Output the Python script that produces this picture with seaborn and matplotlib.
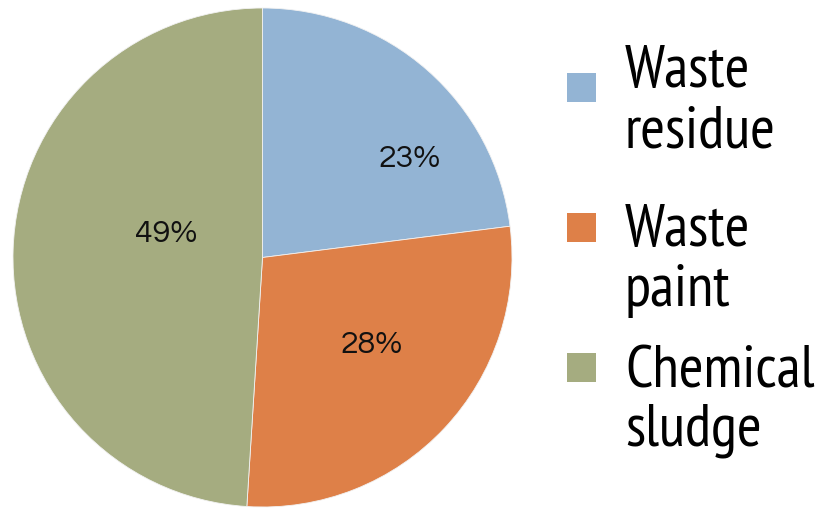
import matplotlib
matplotlib.use("Agg")
import matplotlib.pyplot as plt
from matplotlib import font_manager as fm
from matplotlib.patches import Rectangle
import seaborn as sns

# ---- data ----
categories = ["Waste residue", "Waste paint", "Chemical sludge"]
legend_lines = [["Waste", "residue"], ["Waste", "paint"], ["Chemical", "sludge"]]
values = [23, 28, 49]
colors = ["#93B4D4", "#DE8048", "#A5AC80"]

sns.set_style("white")
plt.rcParams["font.family"] = ["DejaVu Sans"]

_avail = {f.name for f in fm.fontManager.ttflist}


def pick(cands):
    for name, size in cands:
        if name in _avail:
            return name, size
    return "DejaVu Sans", cands[-1][1]


legend_family, legend_size = pick([("PT Sans Narrow", 43), ("Archivo Narrow", 40),
                                   ("Liberation Sans", 32)])
pct_family, pct_size = pick([("Questrial", 23), ("Didact Gothic", 21), ("DejaVu Sans", 19)])

W, H = 834, 508
fig = plt.figure(figsize=(W / 100, H / 100), dpi=100)
fig.patch.set_facecolor("white")


def fx(px):
    return px / W


def fy(py):
    return (H - py) / H


# pie axes: pixel box 13..512 x 8..507
ax = fig.add_axes([fx(13), fy(507), (512 - 13) / W, (507 - 8) / H])
wedges, texts, autotexts = ax.pie(
    values,
    colors=colors,
    startangle=90,
    counterclock=False,
    radius=1.0,
    autopct="%d%%",
    pctdistance=0.6,
    wedgeprops=dict(linewidth=0.6, edgecolor="#F2F2F2"),
    textprops=dict(fontsize=pct_size, color="#111111", family=[pct_family, "DejaVu Sans"]),
)
ax.set_xlim(-1.0, 1.0)
ax.set_ylim(-1.0, 1.0)
ax.set_aspect("auto")
ax.axis("off")

label_pos = [(0.59, 0.395), (0.44, -0.35), (-0.387, 0.094)]
for t, p in zip(autotexts, label_pos):
    t.set_position(p)
    t.set_ha("center")
    t.set_va("center")

# legend drawn manually
sq_tops = [73, 213, 353]
baselines = [(87, 148), (246, 306), (387, 445)]
for col, top, lines, bl in zip(colors, sq_tops, legend_lines, baselines):
    fig.add_artist(Rectangle((fx(567), fy(top + 29)), 29 / W, 29 / H,
                             transform=fig.transFigure, facecolor=col,
                             edgecolor="none"))
    for line, b in zip(lines, bl):
        fig.text(fx(625), fy(b), line, ha="left", va="baseline",
                 fontsize=legend_size, color="black",
                 family=[legend_family, "DejaVu Sans"])

fig.savefig("out.png", dpi=100, facecolor="white")
